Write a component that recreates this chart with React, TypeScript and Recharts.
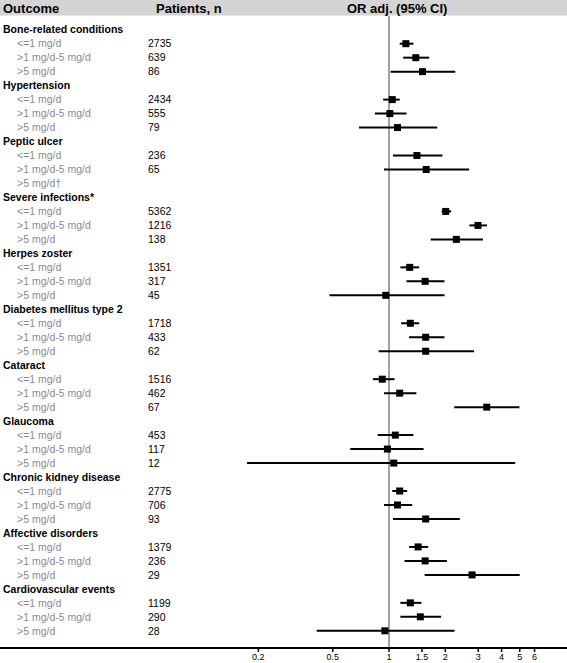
import { ComposedChart, ErrorBar, ReferenceLine, Scatter, XAxis, YAxis } from "recharts";

const outcomes = [
  "Bone-related conditions",
  "Hypertension",
  "Peptic ulcer",
  "Severe infections*",
  "Herpes zoster",
  "Diabetes mellitus type 2",
  "Cataract",
  "Glaucoma",
  "Chronic kidney disease",
  "Affective disorders",
  "Cardiovascular events",
];

const doses = ["<=1 mg/d", ">1 mg/d-5 mg/d", ">5 mg/d"];

// one entry per outcome x dose (null = not estimated)
const patients: (number | null)[] = [
  2735, 639, 86,
  2434, 555, 79,
  236, 65, null,
  5362, 1216, 138,
  1351, 317, 45,
  1718, 433, 62,
  1516, 462, 67,
  453, 117, 12,
  2775, 706, 93,
  1379, 236, 29,
  1199, 290, 28,
];

const orAdj: (number | null)[] = [
  1.23, 1.39, 1.51,
  1.04, 1.01, 1.11,
  1.41, 1.58, null,
  2.01, 2.99, 2.29,
  1.29, 1.56, 0.96,
  1.3, 1.57, 1.57,
  0.92, 1.14, 3.33,
  1.08, 0.98, 1.06,
  1.14, 1.11, 1.57,
  1.43, 1.56, 2.78,
  1.3, 1.47, 0.95,
];

const ciLow: (number | null)[] = [
  1.14, 1.19, 1.02,
  0.93, 0.84, 0.69,
  1.05, 0.94, null,
  1.91, 2.69, 1.67,
  1.15, 1.24, 0.48,
  1.16, 1.28, 0.88,
  0.82, 0.94, 2.23,
  0.87, 0.62, 0.174,
  1.04, 0.94, 1.05,
  1.28, 1.21, 1.55,
  1.15, 1.15, 0.41,
];

const ciHigh: (number | null)[] = [
  1.35, 1.64, 2.26,
  1.14, 1.24, 1.81,
  1.93, 2.68, null,
  2.15, 3.34, 3.18,
  1.45, 1.98, 1.98,
  1.45, 1.98, 2.85,
  1.07, 1.4, 4.98,
  1.35, 1.53, 4.73,
  1.25, 1.33, 2.39,
  1.62, 2.04, 5.0,
  1.49, 1.9, 2.24,
];

const xTicks = [0.2, 0.5, 1, 1.5, 2, 3, 4, 5, 6];

const FONT = "'Liberation Sans', Arial, Helvetica, sans-serif";
const HEADER_ROW = -1.55;
const rowCount = outcomes.length * 4;

const points = orAdj
  .map((v, k) => {
    if (v == null) return null;
    const g = Math.floor(k / 3);
    const d = k % 3;
    return {
      row: g * 4 + 1 + d,
      or: v,
      err: [v - (ciLow[k] as number), (ciHigh[k] as number) - v],
    };
  })
  .filter(Boolean) as { row: number; or: number; err: number[] }[];

const yTicks = [HEADER_ROW, ...Array.from({ length: rowCount }, (_, i) => i)];

function RowLabel(props: any) {
  const { y, payload } = props;
  const v = payload.value;
  if (v === HEADER_ROW) {
    return (
      <g fontFamily={FONT} fontWeight="bold" fontSize={13} fill="#000">
        <rect x={0} y={y - 8} width={567} height={15.5} fill="#d4d4d4" />
        <text x={3} y={y} dy="0.36em">Outcome</text>
        <text x={156} y={y} dy="0.36em">Patients, n</text>
        <text x={347} y={y} dy="0.36em">OR adj. (95% CI)</text>
      </g>
    );
  }
  const g = Math.floor(v / 4);
  const d = (v % 4) - 1;
  if (d < 0) {
    return (
      <text x={3} y={y} dy="0.36em" fontFamily={FONT} fontWeight="bold" fontSize={10.5} fill="#000">
        {outcomes[g]}
      </text>
    );
  }
  const n = patients[g * 3 + d];
  return (
    <g fontFamily={FONT} fontSize={10.5}>
      <text x={17} y={y} dy="0.36em" fill="#8a8a8a">
        {doses[d] + (n == null ? "†" : "")}
      </text>
      {n != null && (
        <text x={148} y={y} dy="0.36em" fill="#000">
          {n}
        </text>
      )}
    </g>
  );
}

const Square = (props: any) => {
  const { cx, cy } = props;
  return <rect x={cx - 3.5} y={cy - 3.5} width={7} height={7} fill="#000" />;
};

export default function App() {
  return (
    <div style={{ position: "absolute", left: 0, top: 0, background: "#fff" }}>
      <ComposedChart width={567} height={663} margin={{ top: 0, right: 0, bottom: 0, left: 0 }}>
        <XAxis
          type="number"
          dataKey="or"
          scale="log"
          domain={[0.0083, 8.95]}
          allowDataOverflow
          ticks={xTicks}
          interval={0}
          height={15}
          axisLine={{ stroke: "#000", strokeWidth: 2 }}
          tickLine={{ stroke: "#000", strokeWidth: 1.5 }}
          tickSize={4}
          tick={{ fontSize: 9, fill: "#000", fontFamily: FONT }}
        />
        <YAxis
          type="number"
          dataKey="row"
          domain={[-2.125, 44.23]}
          reversed
          allowDataOverflow
          ticks={yTicks}
          interval={0}
          mirror
          width={200}
          axisLine={false}
          tickLine={false}
          tick={<RowLabel />}
        />
        <ReferenceLine
          segment={[
            { x: 1, y: -0.98 },
            { x: 1, y: 44.23 },
          ]}
          stroke="#a0a0a0"
          strokeWidth={2}
        />
        <Scatter data={points} shape={Square} isAnimationActive={false}>
          <ErrorBar dataKey="err" direction="x" width={0} stroke="#000" strokeWidth={2} />
        </Scatter>
      </ComposedChart>
    </div>
  );
}
